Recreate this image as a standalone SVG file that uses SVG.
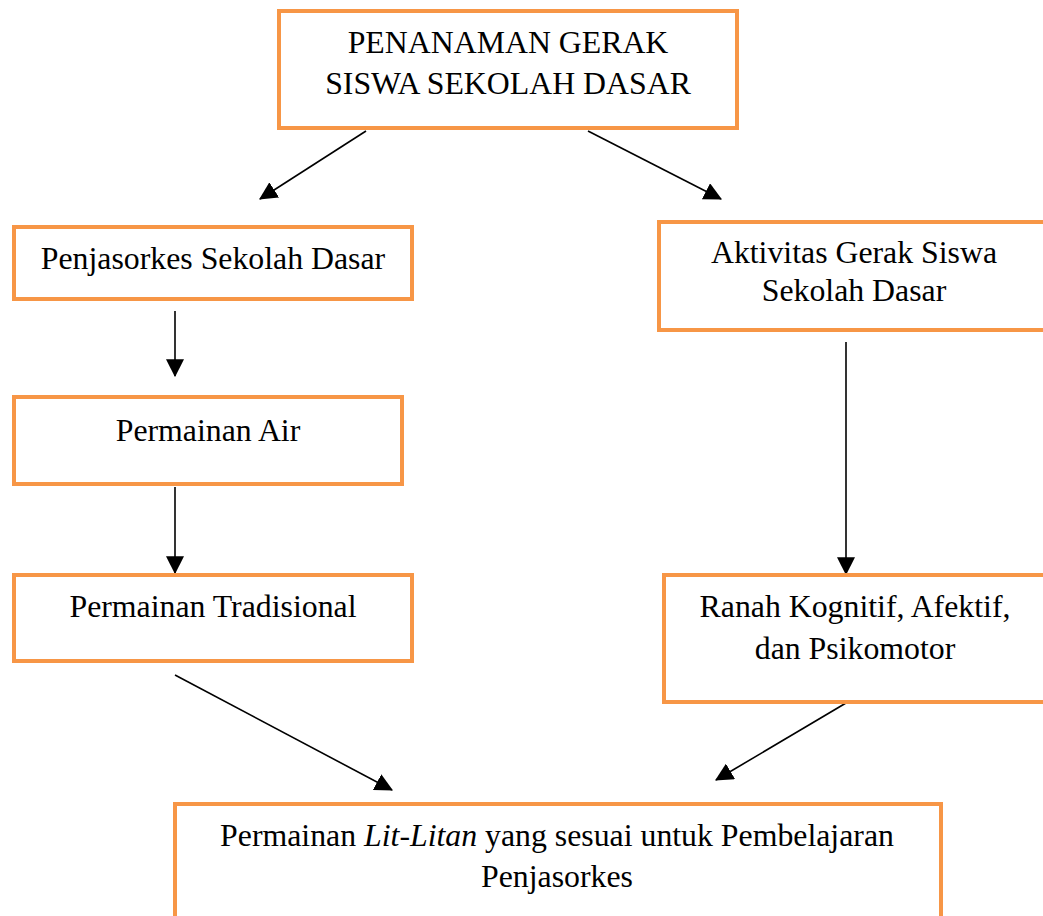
<svg xmlns="http://www.w3.org/2000/svg" width="1043" height="916" viewBox="0 0 1043 916">
<style>
.box{fill:#fff;stroke:#F79646;stroke-width:4}
.t{font-family:"Liberation Serif","Times New Roman",serif;font-size:31.8px;fill:#000;text-anchor:middle}
.c{stroke:#000;stroke-width:1.6;fill:none;marker-end:url(#ah)}
</style>
<defs>
<marker id="ah" markerUnits="userSpaceOnUse" markerWidth="18" markerHeight="18" viewBox="0 0 16 16" refX="15" refY="8" orient="auto">
<path d="M0,0 L16,8 L0,16 Z" fill="#000"/>
</marker>
</defs>
<rect width="1043" height="916" fill="#fff"/>
<g id="connectors">
<line class="c" x1="366" y1="131" x2="260" y2="199"/>
<line class="c" x1="588" y1="131" x2="721" y2="199"/>
<line class="c" x1="175" y1="311" x2="175" y2="376"/>
<line class="c" x1="175" y1="487" x2="175" y2="573"/>
<line class="c" x1="846" y1="342" x2="846" y2="574"/>
<line class="c" x1="175" y1="675" x2="392" y2="790"/>
<line class="c" x1="846" y1="703" x2="716" y2="780"/>
</g>
<g id="top">
<rect class="box" x="279" y="11" width="458" height="117"/>
<text class="t" x="508" y="53">PENANAMAN GERAK</text>
<text class="t" x="508" y="94">SISWA SEKOLAH DASAR</text>
</g>
<g id="penjasorkes">
<rect class="box" x="14" y="227" width="398" height="72"/>
<text class="t" x="213" y="269">Penjasorkes Sekolah Dasar</text>
</g>
<g id="air">
<rect class="box" x="14" y="397" width="388" height="87"/>
<text class="t" x="208" y="441">Permainan Air</text>
</g>
<g id="tradisional">
<rect class="box" x="14" y="575" width="398" height="86"/>
<text class="t" x="213" y="617">Permainan Tradisional</text>
</g>
<g id="aktivitas">
<rect class="box" x="659" y="222" width="420" height="108"/>
<text class="t" x="854" y="263">Aktivitas Gerak Siswa</text>
<text class="t" x="854" y="301">Sekolah Dasar</text>
</g>
<g id="ranah">
<rect class="box" x="664" y="575" width="420" height="127"/>
<text class="t" x="855" y="617">Ranah Kognitif, Afektif,</text>
<text class="t" x="855" y="659">dan Psikomotor</text>
</g>
<g id="litlitan">
<rect class="box" x="175" y="804" width="766" height="200"/>
<text class="t" x="557" y="846">Permainan <tspan font-style="italic">Lit-Litan</tspan> yang sesuai untuk Pembelajaran</text>
<text class="t" x="557" y="887">Penjasorkes</text>
</g>
</svg>
